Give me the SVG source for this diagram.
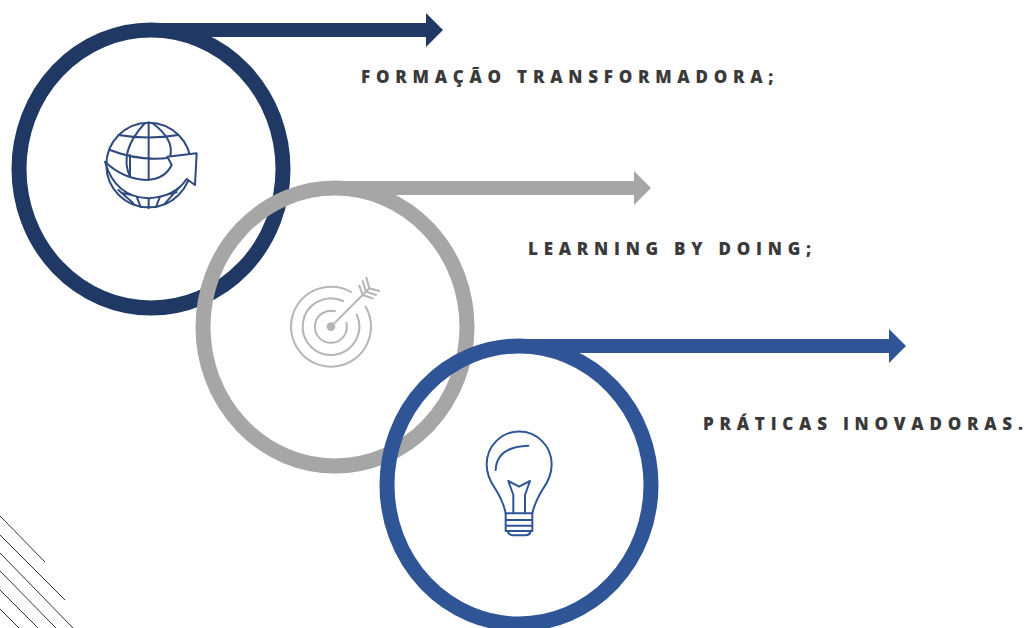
<svg xmlns="http://www.w3.org/2000/svg" width="1026" height="628" viewBox="0 0 1026 628">
<style>
.ring{fill:none;stroke-width:15}
.lbl{font-family:"Open Sans","Liberation Sans",sans-serif;font-weight:800;font-size:17px;letter-spacing:5.750px;fill:#3a3a3a}
.end{letter-spacing:0}
.ic{fill:none;stroke-linejoin:round;stroke-linecap:round;stroke-width:6}
.hatch{stroke:#333;stroke-width:1;fill:none}
</style>
<rect width="1026" height="628" fill="#fff"/>
<g id="hatch"><path class="hatch" d="M0 516L45 562M0 535L65 600M0 553L73 628M0 571L56 628M0 590L38 628M0 609L19 628"/></g>
<g id="connectors">
<path fill="#1f3864" d="M151 23H426V13L443 30L426 47V37H151Z"/>
<path fill="#a6a6a6" d="M335 181H634V171L651 188L634 205V195H335Z"/>
<path fill="#2f5597" d="M519 339H889V329L906 346L889 363V353H519Z"/>
</g>
<g id="node-1"><ellipse class="ring" cx="151" cy="169" rx="132" ry="139" stroke="#1f3864"/>
<g class="ic" stroke="#2f4a7d" transform="translate(90 105) scale(.3333)">
<circle cx="176" cy="180" r="127"/>
<path d="M176 52V310M165 54Q85 140 120 215M187 54Q255 105 240 155M85 90Q175 105 265 90M60 135Q150 170 240 158M120 150V215M100 265Q175 285 260 262M140 275L152 306M176 280V310M210 275L198 306M85 255L130 295M270 245L225 295"/>
<path fill="#fff" d="M45 170Q100 222 170 225Q225 222 245 180L232 155L320 145L315 240L290 222Q255 275 175 280Q75 275 45 170Z"/>
</g></g>
<g id="node-2"><ellipse class="ring" cx="335" cy="327" rx="132" ry="139" stroke="#a6a6a6"/>
<g class="ic" stroke="#b5b5b5" transform="translate(281 265) scale(.3333)">
<path d="M210 81A120 120 0 1 0 254 125M186 108A85 85 0 1 0 227 149M162 139A48 48 0 1 0 196 173"/>
<circle cx="150" cy="185" r="10" fill="#b5b5b5"/>
<path d="M150 185L265 70M245 90L235 62M245 90L275 100M255 80L245 48M255 80L285 90M265 70L256 38M265 70L295 78"/>
</g></g>
<g id="node-3"><ellipse class="ring" cx="519" cy="485" rx="132" ry="139" stroke="#2f5597"/>
<g class="ic" stroke="#2f5597" transform="translate(475 425) scale(.3333)">
<path d="M92 265Q85 230 60 190Q35 155 35 118A97 98 0 0 1 230 118Q230 155 205 190Q180 230 172 265Z"/>
<path d="M62 135Q65 65 160 62M115 265V210L100 168L132 185L165 168L150 210V265"/>
<path d="M92 265V318H172V265M92 285H172M92 302H172M98 318Q100 331 115 331H150Q165 331 167 318"/>
</g></g>
<g id="labels">
<text class="lbl" x="361" y="83">FORMAÇÃO TRANSFORMADORA;</text>
<text class="lbl" x="528" y="255">LEARNING BY DOING;</text>
<text class="lbl" x="703" y="430">PRÁTICAS INOVADORAS<tspan class="end">.</tspan></text>
</g>
</svg>
